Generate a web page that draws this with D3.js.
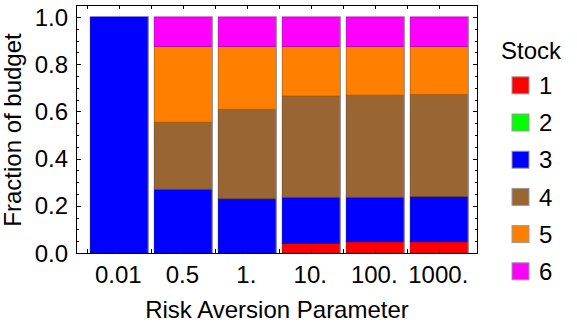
<!DOCTYPE html>
<html>
<head>
<meta charset="utf-8">
<script src="https://cdn.jsdelivr.net/npm/d3@7"></script>
<style>
  html, body { margin: 0; padding: 0; background: #fff; }
  svg { display: block; font-family: "Liberation Sans", Arial, sans-serif; }
</style>
</head>
<body>
<svg id="chart" width="577" height="327"></svg>
<script>
// Risk aversion settings (x categories) and tick labels
const riskLabels = ["0.01", "0.5", "1.", "10.", "100.", "1000."];

// Budget fraction per stock, one value per risk setting
const stock1 = [0.000, 0.000, 0.000, 0.041, 0.048, 0.048];
const stock2 = [0.000, 0.000, 0.000, 0.000, 0.000, 0.000];
const stock3 = [1.000, 0.270, 0.230, 0.195, 0.188, 0.191];
const stock4 = [0.000, 0.284, 0.379, 0.429, 0.433, 0.433];
const stock5 = [0.000, 0.321, 0.266, 0.210, 0.206, 0.203];
const stock6 = [0.000, 0.125, 0.125, 0.125, 0.125, 0.125];

const stockNames = ["1", "2", "3", "4", "5", "6"];
const stockColors = ["#ff0000", "#00ff00", "#0000ff", "#996633", "#ff8000", "#ff00ff"];
const yTicks = [0, 0.2, 0.4, 0.6, 0.8, 1.0];

const series = [stock1, stock2, stock3, stock4, stock5, stock6];
const rows = riskLabels.map((r, i) => {
  const row = { risk: r, idx: i };
  stockNames.forEach((s, k) => { row[s] = series[k][i]; });
  return row;
});

const svg = d3.select("#chart");
const frame = { left: 76, right: 478, top: 5, bottom: 253 };

const x = d3.scaleLinear().domain([-0.677, 5.605]).range([frame.left, frame.right]);
const y = d3.scaleLinear().domain([0, 1.0508]).range([frame.bottom, frame.top]);
const halfBar = 0.453;

const stacked = d3.stack().keys(stockNames)(rows);

// Stacked bars
const layers = svg.append("g").selectAll("g")
  .data(stacked)
  .join("g")
  .attr("fill", (d, k) => stockColors[k]);

layers.selectAll("rect")
  .data((d, k) => d.map(p => ({ p, k })))
  .join("rect")
  .filter(d => d.p[1] - d.p[0] > 0)
  .attr("x", d => x(d.p.data.idx - halfBar))
  .attr("width", d => x(d.p.data.idx + halfBar) - x(d.p.data.idx - halfBar))
  .attr("y", d => y(d.p[1]))
  .attr("height", d => y(d.p[0]) - y(d.p[1]))
  .attr("stroke", d => d3.color(stockColors[d.k]).darker(0.9))
  .attr("stroke-width", 0.9);

// Light edge along the right side of each bar
svg.append("g").selectAll("line")
  .data(rows)
  .join("line")
  .attr("x1", d => x(d.idx + halfBar))
  .attr("x2", d => x(d.idx + halfBar))
  .attr("y1", y(1))
  .attr("y2", y(0))
  .attr("stroke", "#9a9a9a")
  .attr("stroke-width", 1.2);

// Frame
svg.append("rect")
  .attr("x", frame.left + 0.5)
  .attr("y", frame.top + 0.5)
  .attr("width", frame.right - frame.left - 1)
  .attr("height", frame.bottom - frame.top)
  .attr("fill", "none")
  .attr("stroke", "#000")
  .attr("stroke-width", 1);

// Inward ticks on left and right
const yMinor = d3.range(0, 21).map(i => i * 0.05);
const ticksG = svg.append("g").attr("stroke", "#000").attr("stroke-width", 1);
yMinor.forEach(v => {
  const major = Math.abs(v * 5 - Math.round(v * 5)) < 1e-6;
  const len = major ? 5 : 3;
  const yy = Math.round(y(v)) + 0.5;
  ticksG.append("line").attr("x1", frame.left).attr("x2", frame.left + len).attr("y1", yy).attr("y2", yy);
  ticksG.append("line").attr("x1", frame.right).attr("x2", frame.right - len).attr("y1", yy).attr("y2", yy);
});

// Inward ticks on top and bottom at bar centres and gaps
const xTickPos = d3.range(-1, 12).map(i => -0.5 + i * 0.5).filter(v => v >= -0.5 && v <= 5.5);
xTickPos.forEach(v => {
  const xx = Math.round(x(v)) + 0.5;
  ticksG.append("line").attr("x1", xx).attr("x2", xx).attr("y1", frame.top).attr("y2", frame.top + 4);
  ticksG.append("line").attr("x1", xx).attr("x2", xx).attr("y1", frame.bottom).attr("y2", frame.bottom - 4);
});

// Y tick labels
svg.append("g").selectAll("text")
  .data(yTicks)
  .join("text")
  .attr("x", 68)
  .attr("y", d => y(d))
  .attr("dy", "0.36em")
  .attr("text-anchor", "end")
  .attr("font-size", 24)
  .attr("fill", "#000")
  .text(d => d.toFixed(1));

// X tick labels
svg.append("g").selectAll("text")
  .data(rows)
  .join("text")
  .attr("x", d => x(d.idx) - 1)
  .attr("y", 283)
  .attr("text-anchor", "middle")
  .attr("font-size", 24)
  .attr("fill", "#000")
  .text(d => d.risk);

// Axis titles
svg.append("text")
  .attr("x", 277)
  .attr("y", 318)
  .attr("text-anchor", "middle")
  .attr("font-size", 24)
  .attr("fill", "#000")
  .text("Risk Aversion Parameter");

svg.append("text")
  .attr("transform", "translate(21,130) rotate(-90)")
  .attr("text-anchor", "middle")
  .attr("font-size", 24)
  .attr("fill", "#000")
  .text("Fraction of budget");

// Legend
const legend = svg.append("g");
legend.append("text")
  .attr("x", 501)
  .attr("y", 59)
  .attr("font-size", 24)
  .attr("fill", "#000")
  .text("Stock");

const items = legend.selectAll("g.item")
  .data(stockNames)
  .join("g")
  .attr("class", "item")
  .attr("transform", (d, i) => `translate(0, ${85.3 + i * 37.2})`);

items.append("rect")
  .attr("x", 512)
  .attr("y", -8.5)
  .attr("width", 17)
  .attr("height", 17)
  .attr("fill", (d, i) => stockColors[i])
  .attr("stroke", "#999")
  .attr("stroke-width", 1);

items.append("text")
  .attr("x", 539)
  .attr("y", 0)
  .attr("dy", "0.36em")
  .attr("font-size", 24)
  .attr("fill", "#000")
  .text(d => d);
</script>
</body>
</html>
